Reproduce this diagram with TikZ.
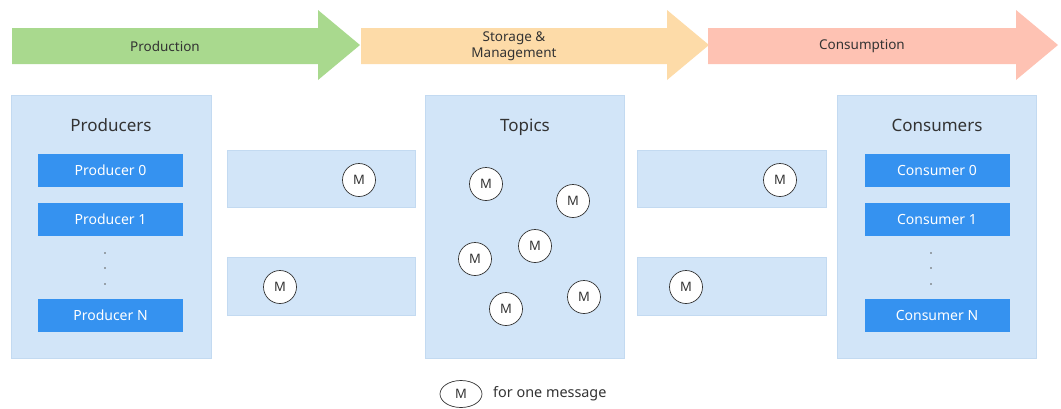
\documentclass[tikz,border=0pt]{standalone}
\usepackage{fontspec}
\setmainfont{Noto Sans}
\usetikzlibrary{shapes.geometric}
\definecolor{prodgreen}{HTML}{A9D98E}
\definecolor{storeorange}{HTML}{FDDBA8}
\definecolor{conspink}{HTML}{FEC2B3}
\definecolor{panelblue}{HTML}{D2E5F8}
\definecolor{paneledge}{HTML}{C3DAF1}
\definecolor{btnblue}{HTML}{3592F0}
\definecolor{inkgray}{HTML}{333333}
\tikzset{
  phase/.style={draw=none, inner sep=0pt, font=\fontsize{13.5}{16}\selectfont, text=inkgray, align=center},
  panel/.style={fill=panelblue, draw=paneledge, line width=0.6pt},
  paneltitle/.style={anchor=base, font=\fontsize{17}{20}\selectfont, text=inkgray},
  btn/.style={fill=btnblue, draw=none, minimum width=145pt, minimum height=33pt, inner sep=0pt,
              text=white, font=\fontsize{14}{16}\selectfont},
  msg/.style={circle, fill=white, draw=inkgray, line width=0.7pt, minimum size=33pt, inner sep=0pt,
              font=\fontsize{13}{15}\selectfont, text=inkgray},
  dotmark/.style={circle, fill=inkgray!80, inner sep=0pt, minimum size=1.8pt},
}
\begin{document}
\begin{tikzpicture}[x=1pt, y=-1pt]
\useasboundingbox (0,0) rectangle (1061,408);

% phase arrows along the top
\fill[prodgreen] (12,28) -- (318,28) -- (318,10) -- (360,45) -- (318,80) -- (318,64) -- (12,64) -- cycle;
\fill[storeorange] (361,28) -- (667,28) -- (667,10) -- (709,45) -- (667,80) -- (667,64) -- (361,64) -- cycle;
\fill[conspink] (708,28) -- (1016,28) -- (1016,10) -- (1058,45) -- (1016,80) -- (1016,64) -- (708,64) -- cycle;
\node[phase] (production) at (165,46) {Production};
\node[phase] (storage) at (514,46) {Storage \&\\Management};
\node[phase] (consumption) at (862,46) {Consumption};

% producers panel
\draw[panel] (11,95) rectangle (211,358);
\node[paneltitle] (producers) at (111,131) {Producers};
\node[btn] (p0) at (110.5,170.5) {Producer 0};
\node[btn] (p1) at (110.5,219.5) {Producer 1};
\node[btn] (pn) at (110.5,315.5) {Producer N};
\node[dotmark] (pd1) at (105,253) {};
\node[dotmark] (pd2) at (105,268) {};
\node[dotmark] (pd3) at (105,284) {};

% topics panel
\draw[panel] (425,95) rectangle (624,358);
\node[paneltitle] (topics) at (525,131) {Topics};

% consumers panel
\draw[panel] (837,95) rectangle (1036,358);
\node[paneltitle] (consumers) at (937,131) {Consumers};
\node[btn] (c0) at (937,170.5) {Consumer 0};
\node[btn] (c1) at (937,219.5) {Consumer 1};
\node[btn] (cn) at (937,315.5) {Consumer N};
\node[dotmark] (cd1) at (931,253) {};
\node[dotmark] (cd2) at (931,268) {};
\node[dotmark] (cd3) at (931,284) {};

% message streams between the panels
\draw[panel] (227,150) rectangle (415,207);
\draw[panel] (227,257) rectangle (415,315);
\draw[panel] (637,150) rectangle (826,207);
\draw[panel] (637,257) rectangle (826,315);

% messages
\node[msg] (m1) at (359,180) {M};
\node[msg] (m2) at (280,287) {M};
\node[msg] (t1) at (486,184) {M};
\node[msg] (t2) at (573,201) {M};
\node[msg] (t3) at (535,246) {M};
\node[msg] (t4) at (475,259) {M};
\node[msg] (t5) at (506,309) {M};
\node[msg] (t6) at (584,297) {M};
\node[msg] (m3) at (780,180) {M};
\node[msg] (m4) at (686,287) {M};

% legend
\node[ellipse, fill=white, draw=inkgray, line width=0.7pt, minimum width=42pt, minimum height=27pt,
      inner sep=0pt, font=\fontsize{13}{15}\selectfont, text=inkgray] (legendm) at (461,394) {M};
\node[anchor=west, inner sep=0pt, font=\fontsize{14.4}{16}\selectfont, text=inkgray] (legendtxt) at (493,394) {for one message};
\end{tikzpicture}
\end{document}
